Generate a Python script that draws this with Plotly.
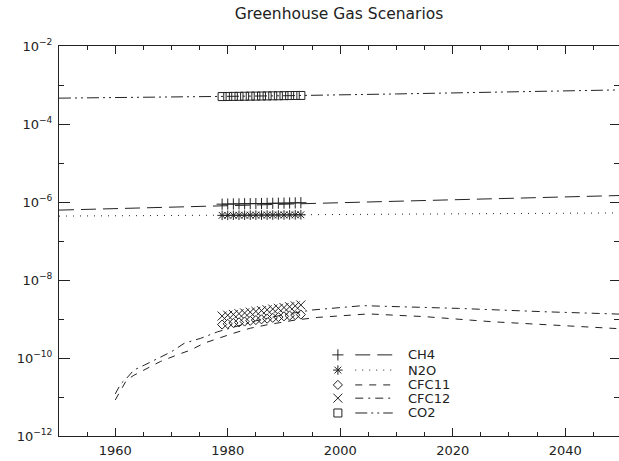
import plotly.graph_objects as go

# ---------------- data ----------------
obs_years = list(range(1979, 1994))

co2_years = [1950, 1970, 1990, 2010, 2030, 2050]
co2_vals = [4.6e-4, 4.9e-4, 5.3e-4, 5.9e-4, 6.6e-4, 7.5e-4]
co2_obs = [5.05e-4, 5.08e-4, 5.1e-4, 5.12e-4, 5.15e-4, 5.18e-4, 5.2e-4, 5.22e-4,
           5.25e-4, 5.28e-4, 5.3e-4, 5.33e-4, 5.36e-4, 5.38e-4, 5.4e-4]

ch4_years = [1950, 1965, 1980, 1990, 2000, 2010, 2020, 2030, 2040, 2050]
ch4_vals = [6.2e-7, 7.0e-7, 8.1e-7, 8.9e-7, 9.6e-7, 1.05e-6, 1.14e-6, 1.24e-6, 1.34e-6, 1.47e-6]
ch4_obs = [8.8e-7, 8.85e-7, 8.9e-7, 8.95e-7, 9.0e-7, 9.05e-7, 9.1e-7, 9.15e-7,
           9.2e-7, 9.25e-7, 9.3e-7, 9.35e-7, 9.4e-7, 9.5e-7, 9.6e-7]

n2o_years = [1950, 1980, 2000, 2020, 2050]
n2o_vals = [4.35e-7, 4.6e-7, 4.8e-7, 5.0e-7, 5.25e-7]
n2o_obs = [4.55e-7, 4.56e-7, 4.57e-7, 4.58e-7, 4.59e-7, 4.6e-7, 4.61e-7, 4.62e-7,
           4.63e-7, 4.64e-7, 4.65e-7, 4.66e-7, 4.67e-7, 4.68e-7, 4.7e-7]

cfc11_years = [1960, 1961, 1962, 1963.3, 1965.7, 1968, 1971, 1973.4, 1975.8, 1978.2,
               1981, 1984, 1987, 1992, 1996, 2005, 2015, 2027, 2038, 2050]
cfc11_vals = [8.4e-12, 1.5e-11, 2.7e-11, 3.6e-11, 5.4e-11, 8.1e-11, 1.2e-10, 1.6e-10, 2.4e-10, 3.2e-10,
              4.3e-10, 5.8e-10, 7.1e-10, 9.4e-10, 1.1e-9, 1.35e-9, 1.15e-9, 8.5e-10, 7.1e-10, 5.6e-10]
cfc11_obs = [7.2e-10, 7.5e-10, 7.9e-10, 8.2e-10, 8.6e-10, 9.0e-10, 9.4e-10, 9.8e-10,
             1.02e-9, 1.07e-9, 1.12e-9, 1.17e-9, 1.22e-9, 1.26e-9, 1.3e-9]

cfc12_years = [1960, 1961, 1962, 1963.3, 1965.2, 1967.5, 1970, 1972.3, 1975.2, 1978.2,
               1985, 1990, 1995, 2004, 2021, 2036, 2050]
cfc12_vals = [1.2e-11, 2.2e-11, 3.0e-11, 4.9e-11, 6.6e-11, 9.8e-11, 1.45e-10, 2.4e-10, 3.2e-10, 4.7e-10,
              9.0e-10, 1.3e-9, 1.7e-9, 2.2e-9, 1.87e-9, 1.54e-9, 1.33e-9]
cfc12_obs = [1.19e-9, 1.25e-9, 1.31e-9, 1.37e-9, 1.43e-9, 1.5e-9, 1.57e-9, 1.64e-9,
             1.72e-9, 1.8e-9, 1.88e-9, 1.97e-9, 2.06e-9, 2.17e-9, 2.29e-9]

legend_names = ["CH4", "N2O", "CFC11", "CFC12", "CO2"]
x_ticks = [1960, 1980, 2000, 2020, 2040]
y_major = [-12, -10, -8, -6, -4, -2]
y_minor = [-11, -9, -7, -5, -3]

# ---------------- styles ----------------
INK = "#222222"
series = [
    # name, years, vals, obs, dash, symbol, size
    ("CH4", ch4_years, ch4_vals, ch4_obs, "15px,7px", "cross-thin-open", 8),
    ("N2O", n2o_years, n2o_vals, n2o_obs, "1px,6px", "asterisk-open", 8),
    ("CFC11", cfc11_years, cfc11_vals, cfc11_obs, "7px,7px", "diamond-open", 7),
    ("CFC12", cfc12_years, cfc12_vals, cfc12_obs, "8px,5px,2px,5px", "x-thin-open", 9),
    ("CO2", co2_years, co2_vals, co2_obs, "12px,4px,2px,4px,2px,4px", "square-open", 8),
]

fig = go.Figure()
for name, yrs, vals, obs, dash, sym, sz in series:
    fig.add_trace(go.Scatter(x=yrs, y=vals, mode="lines",
                             line=dict(color=INK, width=1, dash=dash),
                             showlegend=False, hoverinfo="skip"))
    fig.add_trace(go.Scatter(x=obs_years, y=obs, mode="markers",
                             marker=dict(symbol=sym, size=sz, color=INK,
                                         line=dict(width=1, color=INK)),
                             showlegend=False, hoverinfo="skip"))

# ---------------- manual legend on hidden overlay axes ----------------
leg_rows = [0.208, 0.169, 0.131, 0.097, 0.059]
mk_x, l0, l1, tx = 0.498, 0.529, 0.596, 0.619
for (name, yrs, vals, obs, dash, sym, sz), ry in zip(series, leg_rows):
    fig.add_trace(go.Scatter(x=[mk_x], y=[ry], mode="markers", xaxis="x2", yaxis="y2",
                             marker=dict(symbol=sym, size=sz, color=INK, line=dict(width=1, color=INK)),
                             showlegend=False, hoverinfo="skip"))
    fig.add_trace(go.Scatter(x=[l0, l1], y=[ry, ry], mode="lines", xaxis="x2", yaxis="y2",
                             line=dict(color=INK, width=1, dash=dash),
                             showlegend=False, hoverinfo="skip"))
    fig.add_annotation(x=tx, y=ry, xref="x2", yref="y2", text=name, showarrow=False,
                       xanchor="left", yanchor="middle",
                       font=dict(family="DejaVu Sans", size=13, color=INK))

# dummy trace for right-side ticks
fig.add_trace(go.Scatter(x=[None], y=[None], xaxis="x", yaxis="y3", showlegend=False, hoverinfo="skip"))

font = dict(family="DejaVu Sans", size=13, color=INK)
ytext = ["10<sup>\u2212%d</sup>" % (-v) for v in y_major]

fig.update_layout(
    width=619, height=461,
    margin=dict(l=59, r=0, t=46, b=25),
    paper_bgcolor="white", plot_bgcolor="white",
    showlegend=False,
    title=dict(text="Greenhouse Gas Scenarios", x=0.5, xref="paper", xanchor="center",
               y=0.97, yref="container", yanchor="middle",
               font=dict(family="DejaVu Sans", size=15.5, color=INK)),
    font=font,
    xaxis=dict(range=[1950, 2049.56], showgrid=False, zeroline=False,
               showline=True, linecolor=INK, linewidth=1, mirror="ticks",
               ticks="inside", ticklen=8, tickcolor=INK, tickwidth=1,
               tickvals=x_ticks, ticktext=[str(v) for v in x_ticks],
               tickfont=font, ticklabelstandoff=2,
               minor=dict(dtick=5, tick0=1950, ticks="inside", ticklen=4, tickcolor=INK)),
    yaxis=dict(type="log", range=[-12, -2], showgrid=False, zeroline=False,
               showline=True, linecolor=INK, linewidth=1,
               ticks="inside", ticklen=11, tickcolor=INK, tickwidth=1,
               tickvals=[10.0 ** v for v in y_major], ticktext=ytext, tickfont=font,
               ticklabelstandoff=3,
               minor=dict(tickmode="array", tickvals=[10.0 ** v for v in y_minor],
                          ticks="inside", ticklen=5, tickcolor=INK)),
    yaxis3=dict(type="log", range=[-12, -2], overlaying="y", side="right",
                showgrid=False, zeroline=False, showline=False, showticklabels=False,
                ticks="inside", ticklen=9, tickcolor=INK,
                tickvals=[10.0 ** v for v in y_major],
                minor=dict(tickmode="array", tickvals=[10.0 ** v for v in y_minor],
                           ticks="inside", ticklen=5, tickcolor=INK)),
    xaxis2=dict(range=[0, 1], overlaying="x", visible=False),
    yaxis2=dict(range=[0, 1], overlaying="y", visible=False),
)

fig.write_html("out.html")
